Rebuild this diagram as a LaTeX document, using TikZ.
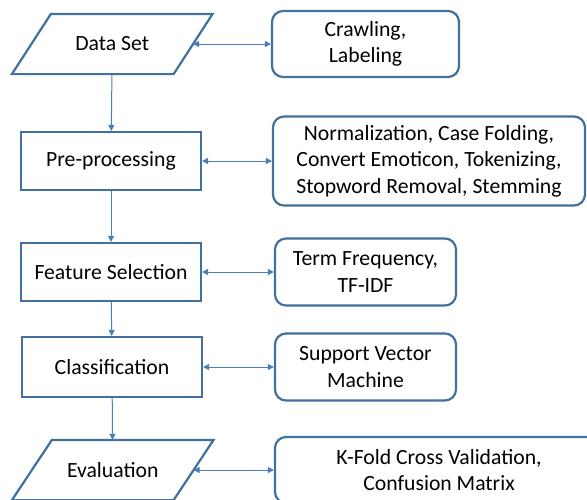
\documentclass[tikz,border=0pt]{standalone}
\usepackage{fontspec}
\setmainfont{Carlito}
\usetikzlibrary{arrows.meta}
\definecolor{boxblue}{RGB}{65,113,156}
\definecolor{arrowblue}{RGB}{74,126,187}
\tikzset{
  base/.style={draw=boxblue, line width=2.2pt, fill=white, text=black, align=center, inner sep=0pt,
    font=\fontsize{21.7}{26.5}\selectfont},
  procbox/.style={base, rectangle, minimum width=180pt, minimum height=58pt},
  iotext/.style={base, draw=none, fill=none, rectangle, minimum width=159.5pt, minimum height=58pt},
  ioframe/.style={draw=boxblue, line width=2.2pt, line join=miter},
  infobox/.style={base, rectangle, rounded corners=11pt},
  flow/.style={draw=arrowblue, line width=1pt, -{Triangle[length=6pt,width=6pt]}},
  link/.style={draw=arrowblue, line width=1pt, {Triangle[length=6pt,width=6pt]}-{Triangle[length=6pt,width=6pt]}}
}
\begin{document}
\begin{tikzpicture}[x=1pt,y=-1pt]
\clip (0,0) rectangle (587,499);
\fill[white] (0,0) rectangle (587,499);
% left column
\node[iotext] (ds) at (112.25,44) {Data Set};
\draw[ioframe] ([xshift=19.5pt]ds.north west) -- ([xshift=19.5pt]ds.north east)
  -- ([xshift=-19.5pt]ds.south east) -- ([xshift=-19.5pt]ds.south west) -- cycle;
\node[procbox] (pre) at (111,161) {Pre-processing};
\node[procbox] (fs) at (111,272) {Feature Selection};
\node[procbox, minimum height=60pt] (cls) at (112,367) {Classification};
\node[iotext] (ev) at (112.75,470) {Evaluation};
\draw[ioframe] ([xshift=20pt]ev.north west) -- ([xshift=20pt]ev.north east)
  -- ([xshift=-20pt]ev.south east) -- ([xshift=-20pt]ev.south west) -- cycle;
% right column
\node[infobox, minimum width=187pt, minimum height=66pt] (crawl) at (365.5,44) {Crawling,\\Labeling};
\node[infobox, minimum width=312pt, minimum height=89pt] (norm) at (429,161) {Normalization, Case Folding,\\Convert Emoticon, Tokenizing,\\Stopword Removal, Stemming};
\node[infobox, minimum width=181pt, minimum height=67pt] (tf) at (365.5,272) {Term Frequency,\\TF-IDF};
\node[infobox, minimum width=181pt, minimum height=67pt] (svm) at (365.5,367) {Support Vector\\Machine};
\node[infobox, minimum width=328pt, minimum height=66pt] (kf) at (439,470) {K-Fold Cross Validation,\\Confusion Matrix};
% flow arrows
\draw[flow] (ds) -- (pre);
\draw[flow] (pre) -- (fs);
\draw[flow] (fs) -- (cls);
\draw[flow] (cls) -- (ev);
% links
\draw[link] (ds) -- (crawl);
\draw[link] (pre) -- (norm);
\draw[link] (fs) -- (tf);
\draw[link] (cls) -- (svm);
\draw[link] (ev) -- (kf);
\end{tikzpicture}
\end{document}
